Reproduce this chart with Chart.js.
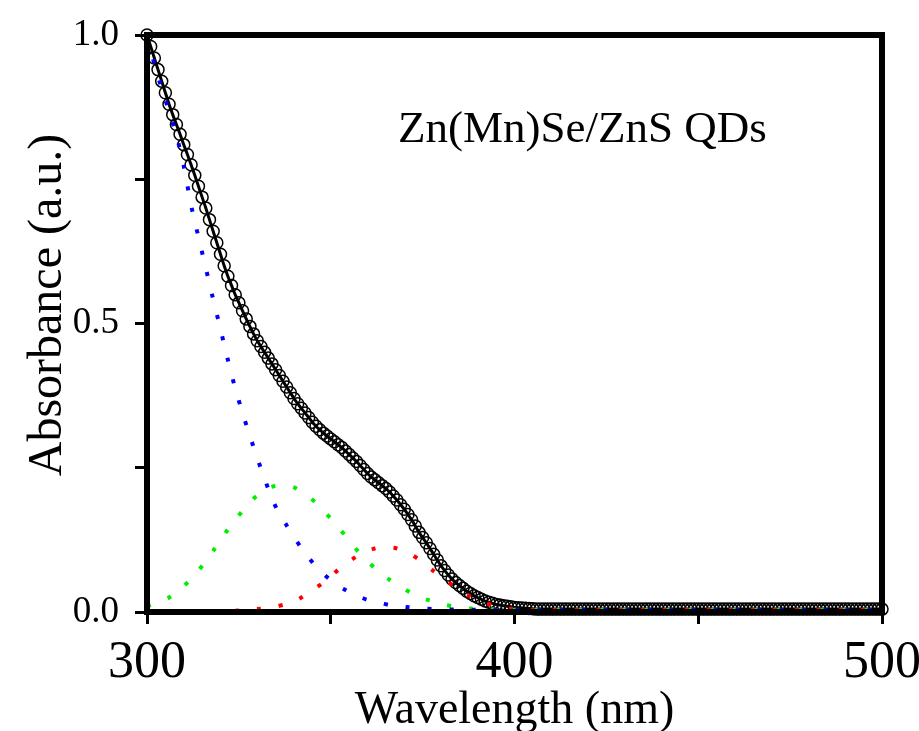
<!DOCTYPE html>
<html><head><meta charset="utf-8">
<script src="https://cdn.jsdelivr.net/npm/chart.js@4.4.0/dist/chart.umd.min.js"></script>
<style>html,body{margin:0;padding:0;background:#fff;}#wrap{width:919px;height:731px;position:relative;}</style>
</head><body><div id="wrap"><canvas id="c"></canvas></div>
<script>
// Measured absorbance (open circles, 1 nm steps) and the fitted envelope line
const measuredWavelength = [300,301,302,303,304,305,306,307,308,309,310,311,312,313,314,315,316,317,318,319,320,321,322,323,324,325,326,327,328,329,330,331,332,333,334,335,336,337,338,339,340,341,342,343,344,345,346,347,348,349,350,351,352,353,354,355,356,357,358,359,360,361,362,363,364,365,366,367,368,369,370,371,372,373,374,375,376,377,378,379,380,381,382,383,384,385,386,387,388,389,390,391,392,393,394,395,396,397,398,399,400,401,402,403,404,405,406,407,408,409,410,411,412,413,414,415,416,417,418,419,420,421,422,423,424,425,426,427,428,429,430,431,432,433,434,435,436,437,438,439,440,441,442,443,444,445,446,447,448,449,450,451,452,453,454,455,456,457,458,459,460,461,462,463,464,465,466,467,468,469,470,471,472,473,474,475,476,477,478,479,480,481,482,483,484,485,486,487,488,489,490,491,492,493,494,495,496,497,498,499,500];
const measuredAbsorbance = [1.000,0.980,0.960,0.940,0.920,0.900,0.880,0.862,0.845,0.828,0.810,0.793,0.775,0.757,0.738,0.719,0.700,0.680,0.660,0.640,0.620,0.600,0.582,0.566,0.550,0.536,0.522,0.508,0.495,0.482,0.470,0.460,0.450,0.440,0.430,0.420,0.410,0.400,0.390,0.380,0.370,0.361,0.353,0.345,0.337,0.329,0.322,0.316,0.310,0.305,0.300,0.295,0.290,0.285,0.279,0.273,0.267,0.261,0.254,0.247,0.240,0.234,0.229,0.224,0.219,0.214,0.208,0.201,0.194,0.186,0.178,0.169,0.160,0.149,0.138,0.129,0.120,0.110,0.100,0.090,0.080,0.072,0.064,0.057,0.051,0.046,0.041,0.036,0.032,0.028,0.025,0.022,0.019,0.017,0.015,0.013,0.012,0.011,0.010,0.009,0.008,0.0075,0.007,0.0065,0.006,0.0055,0.005,0.005,0.005,0.005,0.005,0.005,0.005,0.005,0.005,0.005,0.005,0.005,0.005,0.005,0.005,0.005,0.005,0.005,0.005,0.005,0.005,0.005,0.005,0.005,0.005,0.005,0.005,0.005,0.005,0.005,0.005,0.005,0.005,0.005,0.005,0.005,0.005,0.005,0.005,0.005,0.005,0.005,0.005,0.005,0.005,0.005,0.005,0.005,0.005,0.005,0.005,0.005,0.005,0.005,0.005,0.005,0.005,0.005,0.005,0.005,0.005,0.005,0.005,0.005,0.005,0.005,0.005,0.005,0.005,0.005,0.005,0.005,0.005,0.005,0.005,0.005,0.005,0.005,0.005,0.005,0.005,0.005,0.005,0.005,0.005,0.005,0.005,0.005,0.005,0.005,0.005,0.005,0.005,0.005,0.005];

// Fitted components (dotted)
const blueWavelength = [300,302,304,306,308,310,312,314,316,318,320,322,324,326,328,330,332,334,336,338,340,342,344,346,348,350,352,354,356,358,360,362,364,366,368,370,375,380,385,390,400,420,440,460,480,500];
const blueAbsorbance = [0.995,0.950,0.907,0.868,0.826,0.773,0.705,0.650,0.596,0.542,0.490,0.437,0.388,0.345,0.305,0.267,0.231,0.197,0.170,0.150,0.130,0.111,0.094,0.079,0.066,0.055,0.045,0.038,0.031,0.026,0.021,0.018,0.015,0.012,0.010,0.009,0.006,0.005,0.004,0.004,0.004,0.004,0.004,0.004,0.004,0.004];

const greenWavelength = [300,302,304,306,308,310,312,314,316,318,320,322,324,326,328,330,332,334,336,338,340,342,344,346,348,350,352,354,356,358,360,362,364,366,368,370,372,374,376,378,380,384,388,392,396,400,420,440,460,480,500];
const greenAbsorbance = [0.010,0.014,0.019,0.025,0.034,0.045,0.057,0.072,0.088,0.106,0.124,0.143,0.160,0.175,0.190,0.202,0.211,0.217,0.219,0.219,0.216,0.209,0.200,0.189,0.176,0.162,0.147,0.132,0.116,0.101,0.088,0.076,0.064,0.056,0.048,0.040,0.033,0.027,0.022,0.018,0.014,0.009,0.006,0.005,0.004,0.004,0.004,0.004,0.004,0.004,0.004];

const redWavelength = [300,310,320,326,330,334,338,340,342,344,346,348,350,352,354,356,358,360,362,364,366,368,370,372,374,376,378,380,382,384,386,388,390,392,394,396,400,405,410,440,470,500];
const redAbsorbance = [0.001,0.001,0.001,0.003,0.005,0.008,0.014,0.018,0.025,0.033,0.042,0.051,0.062,0.073,0.083,0.092,0.100,0.106,0.110,0.112,0.112,0.110,0.105,0.099,0.091,0.081,0.071,0.062,0.052,0.043,0.035,0.027,0.021,0.016,0.012,0.009,0.005,0.004,0.004,0.004,0.004,0.004];

const xTickLabels = ['300','400','500'];
const yTickLabels = ['0.0','0.5','1.0'];
const annotationText = 'Zn(Mn)Se/ZnS QDs';
const xTitle = 'Wavelength (nm)';
const yTitle = 'Absorbance (a.u.)';

const toXY = (xs, ys) => xs.map((x, i) => ({x: x, y: ys[i]}));
const SERIF = '"Liberation Serif", "Times New Roman", serif';

function dotted(color, xs, ys) {
  return {
    data: toXY(xs, ys), borderColor: color, borderWidth: 4, borderDash: [4, 18],
    borderCapStyle: 'butt', pointRadius: 0, fill: false, tension: 0.3, clip: false
  };
}

const framePlugin = {
  id: 'frame',
  afterDatasetsDraw(chart) {
    const {ctx, chartArea: a} = chart;
    ctx.save();
    ctx.strokeStyle = '#000';
    ctx.lineWidth = 6;
    ctx.strokeRect(a.left, a.top, a.right - a.left, a.bottom - a.top);
    ctx.fillStyle = '#000';
    ctx.font = '45px ' + SERIF;
    ctx.textBaseline = 'alphabetic';
    ctx.textAlign = 'left';
    ctx.fillText(annotationText, 398, 142);
    // axis titles
    ctx.textAlign = 'center';
    ctx.textBaseline = 'middle';
    ctx.font = '46px ' + SERIF;
    ctx.fillText(xTitle, (a.left + a.right) / 2, 711);
    ctx.translate(48, 305);
    ctx.rotate(-Math.PI / 2);
    ctx.font = '48px ' + SERIF;
    ctx.fillText(yTitle, 0, 0);
    ctx.restore();
  }
};

new Chart(document.getElementById('c'), {
  type: 'line',
  data: {
    datasets: [
      dotted('#0000ff', blueWavelength, blueAbsorbance),
      dotted('#00ee00', greenWavelength, greenAbsorbance),
      dotted('#ff0000', redWavelength, redAbsorbance),
      { data: toXY(measuredWavelength, measuredAbsorbance), borderColor: '#000', borderWidth: 3,
        pointRadius: 0, fill: false, tension: 0.2, clip: false },
      { data: toXY(measuredWavelength, measuredAbsorbance), showLine: false, pointStyle: 'circle',
        pointRadius: 6, pointBorderWidth: 1.5, pointBorderColor: '#000',
        pointBackgroundColor: 'rgba(255,255,255,0)', clip: false }
    ]
  },
  options: {
    responsive: true, maintainAspectRatio: false, animation: false,
    layout: { padding: { top: 35, right: 37, left: 0, bottom: 0 } },
    plugins: { legend: { display: false }, tooltip: { enabled: false } },
    scales: {
      x: {
        type: 'linear', min: 300, max: 500,
        afterFit: s => { s.height = 119; s.paddingLeft = 0; s.paddingRight = 0; },
        border: { display: false },
        grid: { drawOnChartArea: false, drawTicks: true, tickLength: 12, color: '#000', lineWidth: 3 },
        ticks: { stepSize: 50, padding: 8, color: '#000', font: { family: SERIF, size: 52 }, maxRotation: 0,
          callback: v => xTickLabels.includes(String(v)) ? String(v) : '' }
      },
      y: {
        min: 0, max: 1,
        afterFit: s => { s.width = 147; s.paddingTop = 0; s.paddingBottom = 0; },
        border: { display: false },
        grid: { drawOnChartArea: false, drawTicks: true, tickLength: 12, color: '#000', lineWidth: 3 },
        ticks: { stepSize: 0.25, padding: 16, color: '#000', font: { family: SERIF, size: 37 },
          callback: v => { const s = v.toFixed(1); return (yTickLabels.includes(s) && Math.abs(v * 2 - Math.round(v * 2)) < 1e-6) ? s : ''; } }
      }
    }
  },
  plugins: [framePlugin]
});
</script></body></html>
